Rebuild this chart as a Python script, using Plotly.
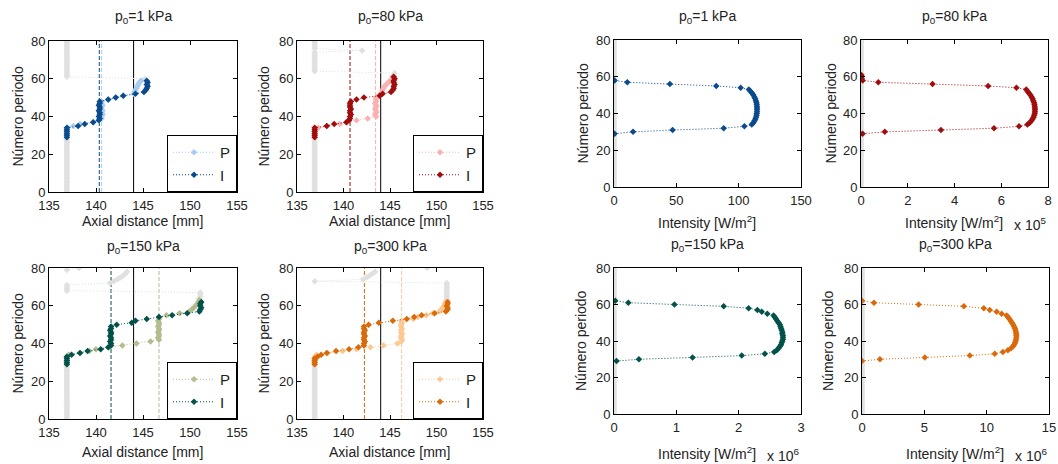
import plotly.graph_objects as go

W, H = 1058, 464
FONT = "Liberation Sans, Arial, Helvetica, sans-serif"
GRAY = "#e0e0e0"
BASE = 136.9  # axial reading when no pulse maximum is detected (near edge of window)

# ---------------- pressure levels / colours ----------------
levels = ["1", "80", "150", "300"]
col_P = ["#a9cdf2", "#fbb1b1", "#b3bc8f", "#fcc992"]
col_I = ["#0b4a8b", "#a00d0d", "#02524b", "#d9690a"]

# ---------------- axial position of P and I maxima per period ----------------
# p0 = 1 kPa
perP_1 = list(range(29, 60))
axP_1 = [136.9, 136.9, 136.9, 136.9, 136.9, 137.0, 137.6, 138.3, 139.7, 140.3,
         140.6, 140.6, 140.7, 140.6, 140.7, 140.6, 140.6, 140.7, 140.6, 140.6,
         141.3, 142.1, 142.9, 144.0, 144.1, 144.2, 144.3, 144.4, 144.5, 144.6,
         144.8]
perI_1 = list(range(29, 60))
axI_1 = [136.9, 136.9, 136.9, 136.9, 136.9, 136.9, 138.1, 138.8, 139.7, 140.3,
         140.4, 140.3, 140.4, 140.4, 140.3, 140.4, 140.4, 140.3, 140.4, 140.4,
         141.3, 142.1, 142.9, 144.2, 145.1, 145.3, 145.4, 145.5, 145.4, 145.5,
         145.4]
gper_1 = list(range(0, 29)) + [None] + list(range(59, 81))
gax_1 = [BASE] * 29 + [None] + [144.8, 145.2] + [BASE] * 20

# p0 = 80 kPa
perP_2 = list(range(29, 62))
axP_2 = [136.9, 136.9, 136.9, 136.9, 136.9, 137.3, 138.2, 139.6, 140.4, 141.4,
         142.6, 143.5, 143.4, 143.5, 143.5, 143.4, 143.5, 143.5, 143.4, 143.5,
         143.5, 143.5, 143.8, 144.0, 144.1, 144.2, 144.3, 144.4, 144.6, 144.8,
         145.0, 145.2, 145.3]
perI_2 = list(range(29, 62))
axI_2 = [136.9, 136.9, 136.9, 136.9, 136.9, 136.9, 138.2, 139.0, 140.3, 140.6,
         140.7, 140.7, 140.8, 140.7, 140.7, 140.8, 140.7, 140.7, 140.7, 140.8,
         141.4, 142.2, 143.9, 144.2, 145.1, 145.3, 145.4, 145.4, 145.5, 145.4,
         145.4, 145.5, 145.4]
gper_2 = list(range(0, 29)) + [None] + list(range(61, 81))
gax_2 = [BASE] * 29 + [None] + [145.3, 145.4, 145.5] + [BASE] * 11 + [142.0] + [BASE] * 5

# p0 = 150 kPa
perP_3 = list(range(29, 64))
axP_3 = [136.9, 136.9, 136.9, 136.9, 136.9, 137.1, 138.3, 139.3, 140.0, 141.4,
         142.8, 144.3, 145.8, 146.7, 146.6, 146.7, 146.7, 146.6, 146.7, 146.7,
         146.6, 146.7, 146.7, 146.6, 146.7, 146.7, 147.5, 148.9, 149.9, 150.2,
         150.4, 150.6, 150.8, 150.9, 151.0]
perI_3 = list(range(29, 63))
axI_3 = [136.9, 136.9, 136.9, 136.9, 136.9, 137.4, 138.3, 139.1, 140.5, 141.3,
         141.6, 141.6, 141.5, 141.6, 141.6, 141.5, 141.6, 141.6, 141.5, 141.6,
         141.6, 142.2, 143.8, 144.2, 145.4, 146.7, 148.1, 149.7, 151.0, 151.1,
         151.2, 151.1, 151.1, 151.2]
gper_3 = list(range(0, 29)) + [None] + list(range(63, 79)) + [None] + [79, 80]
gax_3 = ([BASE] * 29 + [None] + [151.0, 151.0, 151.1, 151.1, 151.1] + [BASE] * 4
         + [141.5, 141.9, 142.3, 142.6, 142.9, 143.1, 143.3] + [None] + [BASE, 138.2])

# p0 = 300 kPa
perP_4 = list(range(29, 63))
axP_4 = [136.9, 136.9, 136.9, 136.9, 136.9, 137.1, 138.3, 139.9, 141.4, 142.9,
         144.3, 145.8, 146.2, 146.3, 146.2, 146.2, 146.3, 146.2, 146.2, 146.3,
         146.2, 146.2, 146.3, 146.2, 147.5, 148.0, 148.9, 149.6, 150.3, 150.5,
         150.7, 150.8, 150.9, 151.0]
perI_4 = list(range(29, 63))
axI_4 = [136.9, 136.9, 136.9, 136.9, 137.2, 137.6, 138.2, 139.2, 140.6, 141.6,
         142.2, 142.2, 142.3, 142.2, 142.2, 142.3, 142.2, 142.2, 142.3, 142.2,
         142.2, 142.7, 143.8, 145.3, 146.8, 147.6, 148.4, 149.8, 151.0, 151.2,
         151.2, 151.1, 151.2, 151.2]
gper_4 = list(range(0, 29)) + [None] + list(range(62, 79)) + [None] + [80]
gax_4 = ([BASE] * 29 + [None] + [151.0] + [151.1] * 10 + [BASE]
         + [142.1, 142.5, 142.8, 143.1, 143.4] + [None] + [149.0])

# reference positions (mm): focal distance and mean P / I positions
focus_mm = 144.0
meanP_mm = [140.6, 143.45, 146.7, 146.25]
meanI_mm = [140.35, 140.7, 141.6, 142.25]

# ---------------- peak intensity per period ----------------
all_periods = list(range(0, 81))
iper_1 = list(range(29, 59))
int_1 = [0.5, 15.3, 47.0, 88.0, 104.6, 110.5, 111.8, 112.7, 113.4, 113.9,
         114.3, 114.5, 114.7, 114.7, 114.7, 114.6, 114.5, 114.2, 113.8, 113.3,
         112.6, 111.8, 110.8, 109.6, 108.2, 101.6, 82.0, 44.8, 10.7, 0.5]
iper_2 = list(range(29, 62))
int_2_e5 = [0.07, 1.02, 3.42, 5.69, 6.76, 7.12, 7.22, 7.29, 7.34, 7.38,
            7.41, 7.43, 7.44, 7.44, 7.44, 7.43, 7.42, 7.40, 7.37, 7.34,
            7.30, 7.25, 7.19, 7.13, 7.07, 6.65, 5.44, 3.06, 0.74, 0.07,
            0.03, 0.02, 0.02]
iper_3 = list(range(29, 63))
int_3_e6 = [0.04, 0.40, 1.26, 2.05, 2.42, 2.57, 2.61, 2.64, 2.66, 2.68,
            2.69, 2.70, 2.71, 2.71, 2.71, 2.70, 2.70, 2.69, 2.68, 2.67,
            2.66, 2.64, 2.62, 2.60, 2.58, 2.56, 2.46, 2.37, 2.30, 2.16,
            1.76, 0.97, 0.23, 0.02]
iper_4 = list(range(29, 63))
int_4_e6 = [0.0, 1.44, 5.04, 8.65, 10.65, 11.3, 11.7, 11.95, 12.1, 12.2,
            12.28, 12.33, 12.36, 12.38, 12.38, 12.37, 12.35, 12.31, 12.26, 12.2,
            12.12, 12.03, 11.93, 11.83, 11.72, 11.6, 11.2, 10.8, 10.25, 9.77,
            8.17, 4.54, 0.96, 0.0]

int_ranges = [[0, 150], [0, 8], [0, 3], [0, 15]]
int_dticks = [50, 2, 1, 5]
int_exponent = [None, "5", "6", "6"]

# ---------------- panel boxes (px: left, right, top, bottom) ----------------
boxes = {1: (49, 237, 41, 192), 2: (297, 483, 41, 192),
         3: (49, 237, 268, 419), 4: (297, 483, 268, 419),
         5: (614, 801, 40, 187), 6: (861, 1048, 40, 187),
         7: (614, 801, 268, 414), 8: (862, 1049, 268, 414)}


def fx(p):
    return p / W


def fy(p):
    return 1 - p / H


def xa(k):
    return "x" if k == 1 else f"x{k}"


def ya(k):
    return "y" if k == 1 else f"y{k}"


DOT = "1px,2px"
MS = 5
TXT = "#222"
fig = go.Figure()
layout = {}
shapes = []
annotations = []

left_data = [(perP_1, axP_1, perI_1, axI_1, gper_1, gax_1),
             (perP_2, axP_2, perI_2, axI_2, gper_2, gax_2),
             (perP_3, axP_3, perI_3, axI_3, gper_3, gax_3),
             (perP_4, axP_4, perI_4, axI_4, gper_4, gax_4)]

for i, (pP, xP, pI, xI, gp, gx) in enumerate(left_data):
    k = i + 1
    leg = "legend" if k == 1 else f"legend{k}"
    fig.add_trace(go.Scatter(x=gx, y=gp, mode="lines+markers", connectgaps=False,
                             line=dict(color=GRAY, width=1, dash=DOT),
                             marker=dict(symbol="diamond", size=MS, color=GRAY),
                             xaxis=xa(k), yaxis=ya(k), showlegend=False, hoverinfo="skip"))
    fig.add_trace(go.Scatter(x=xP, y=pP, mode="lines+markers", name="P",
                             line=dict(color=col_P[i], width=1, dash=DOT),
                             marker=dict(symbol="diamond", size=MS, color=col_P[i]),
                             xaxis=xa(k), yaxis=ya(k), legend=leg))
    fig.add_trace(go.Scatter(x=xI, y=pI, mode="lines+markers", name="I",
                             line=dict(color=col_I[i], width=1, dash=DOT),
                             marker=dict(symbol="diamond", size=MS, color=col_I[i]),
                             xaxis=xa(k), yaxis=ya(k), legend=leg))
    for xv, c, d in [(meanI_mm[i], col_I[i], "4px,2px"),
                     (meanP_mm[i], col_P[i], "4px,2px"),
                     (focus_mm, "black", "solid")]:
        shapes.append(dict(type="line", xref=xa(k), yref=f"{ya(k)} domain",
                           x0=xv, x1=xv, y0=0, y1=1, layer="below",
                           line=dict(color=c, width=1, dash=d)))
    l, r, t, b = boxes[k]
    layout[leg] = dict(x=fx(r), y=fy(b), xanchor="right", yanchor="bottom",
                       bgcolor="white", bordercolor="black", borderwidth=1,
                       font=dict(family=FONT, size=15, color=TXT),
                       itemwidth=42, tracegroupgap=0)

right_data = [(iper_1, int_1), (iper_2, int_2_e5), (iper_3, int_3_e6), (iper_4, int_4_e6)]
for i, (pp, iv) in enumerate(right_data):
    k = i + 5
    fig.add_trace(go.Scatter(x=[0] * len(all_periods), y=all_periods, mode="markers",
                             marker=dict(symbol="diamond", size=MS, color=GRAY),
                             xaxis=xa(k), yaxis=ya(k), showlegend=False, hoverinfo="skip"))
    fig.add_trace(go.Scatter(x=iv, y=pp, mode="lines+markers",
                             line=dict(color=col_I[i], width=1, dash=DOT),
                             marker=dict(symbol="diamond", size=MS, color=col_I[i]),
                             xaxis=xa(k), yaxis=ya(k), showlegend=False))

axis_common = dict(showgrid=False, zeroline=False, showline=True, linecolor="black",
                   linewidth=1, mirror="allticks", ticks="inside", ticklen=4,
                   tickcolor="black", tickfont=dict(family=FONT, size=13, color=TXT),
                   automargin=False, fixedrange=True)

for k in range(1, 9):
    l, r, t, b = boxes[k]
    xkey = "xaxis" if k == 1 else f"xaxis{k}"
    ykey = "yaxis" if k == 1 else f"yaxis{k}"
    if k <= 4:
        xr = dict(range=[135, 155], tick0=135, dtick=5)
    else:
        xr = dict(range=int_ranges[k - 5], tick0=0, dtick=int_dticks[k - 5])
    layout[xkey] = dict(domain=[fx(l), fx(r)], anchor=ya(k), ticklabelstandoff=1,
                        **xr, **axis_common)
    layout[ykey] = dict(domain=[fy(b), fy(t)], anchor=xa(k), range=[0, 80], tick0=0,
                        dtick=20, **axis_common)

    cx = (l + r) / 2
    lvl = levels[(k - 1) % 4]
    title_y = 17 if t < 100 else (247 if k <= 4 else 245)
    annotations.append(dict(text=f"p<sub>0</sub>={lvl} kPa", x=fx(cx), y=fy(title_y)))
    ylab_x = {1: 17, 2: 263, 3: 17, 4: 263, 5: 582, 6: 830, 7: 581, 8: 828}[k]
    annotations.append(dict(text="Número periodo", x=fx(ylab_x), y=fy((t + b) / 2),
                            textangle=-90))
    xl_y = 221 if t < 100 else 452
    if k <= 4:
        annotations.append(dict(text="Axial distance [mm]", x=fx(cx - 1), y=fy(xl_y)))
    else:
        annotations.append(dict(text="Intensity [W/m<sup>2</sup>]", x=fx(cx - 1),
                                y=fy(xl_y + 1)))
        ex = int_exponent[k - 5]
        if ex:
            annotations.append(dict(text=f"x 10<sup>{ex}</sup>", x=fx(r - 18),
                                    y=fy(xl_y + 3)))

for a in annotations:
    a.update(xref="paper", yref="paper", showarrow=False, xanchor="center",
             yanchor="middle", font=dict(family=FONT, size=14, color=TXT))

fig.update_layout(width=W, height=H, margin=dict(l=0, r=0, t=0, b=0),
                  paper_bgcolor="white", plot_bgcolor="white",
                  shapes=shapes, annotations=annotations, **layout)

fig.write_html("out.html")
